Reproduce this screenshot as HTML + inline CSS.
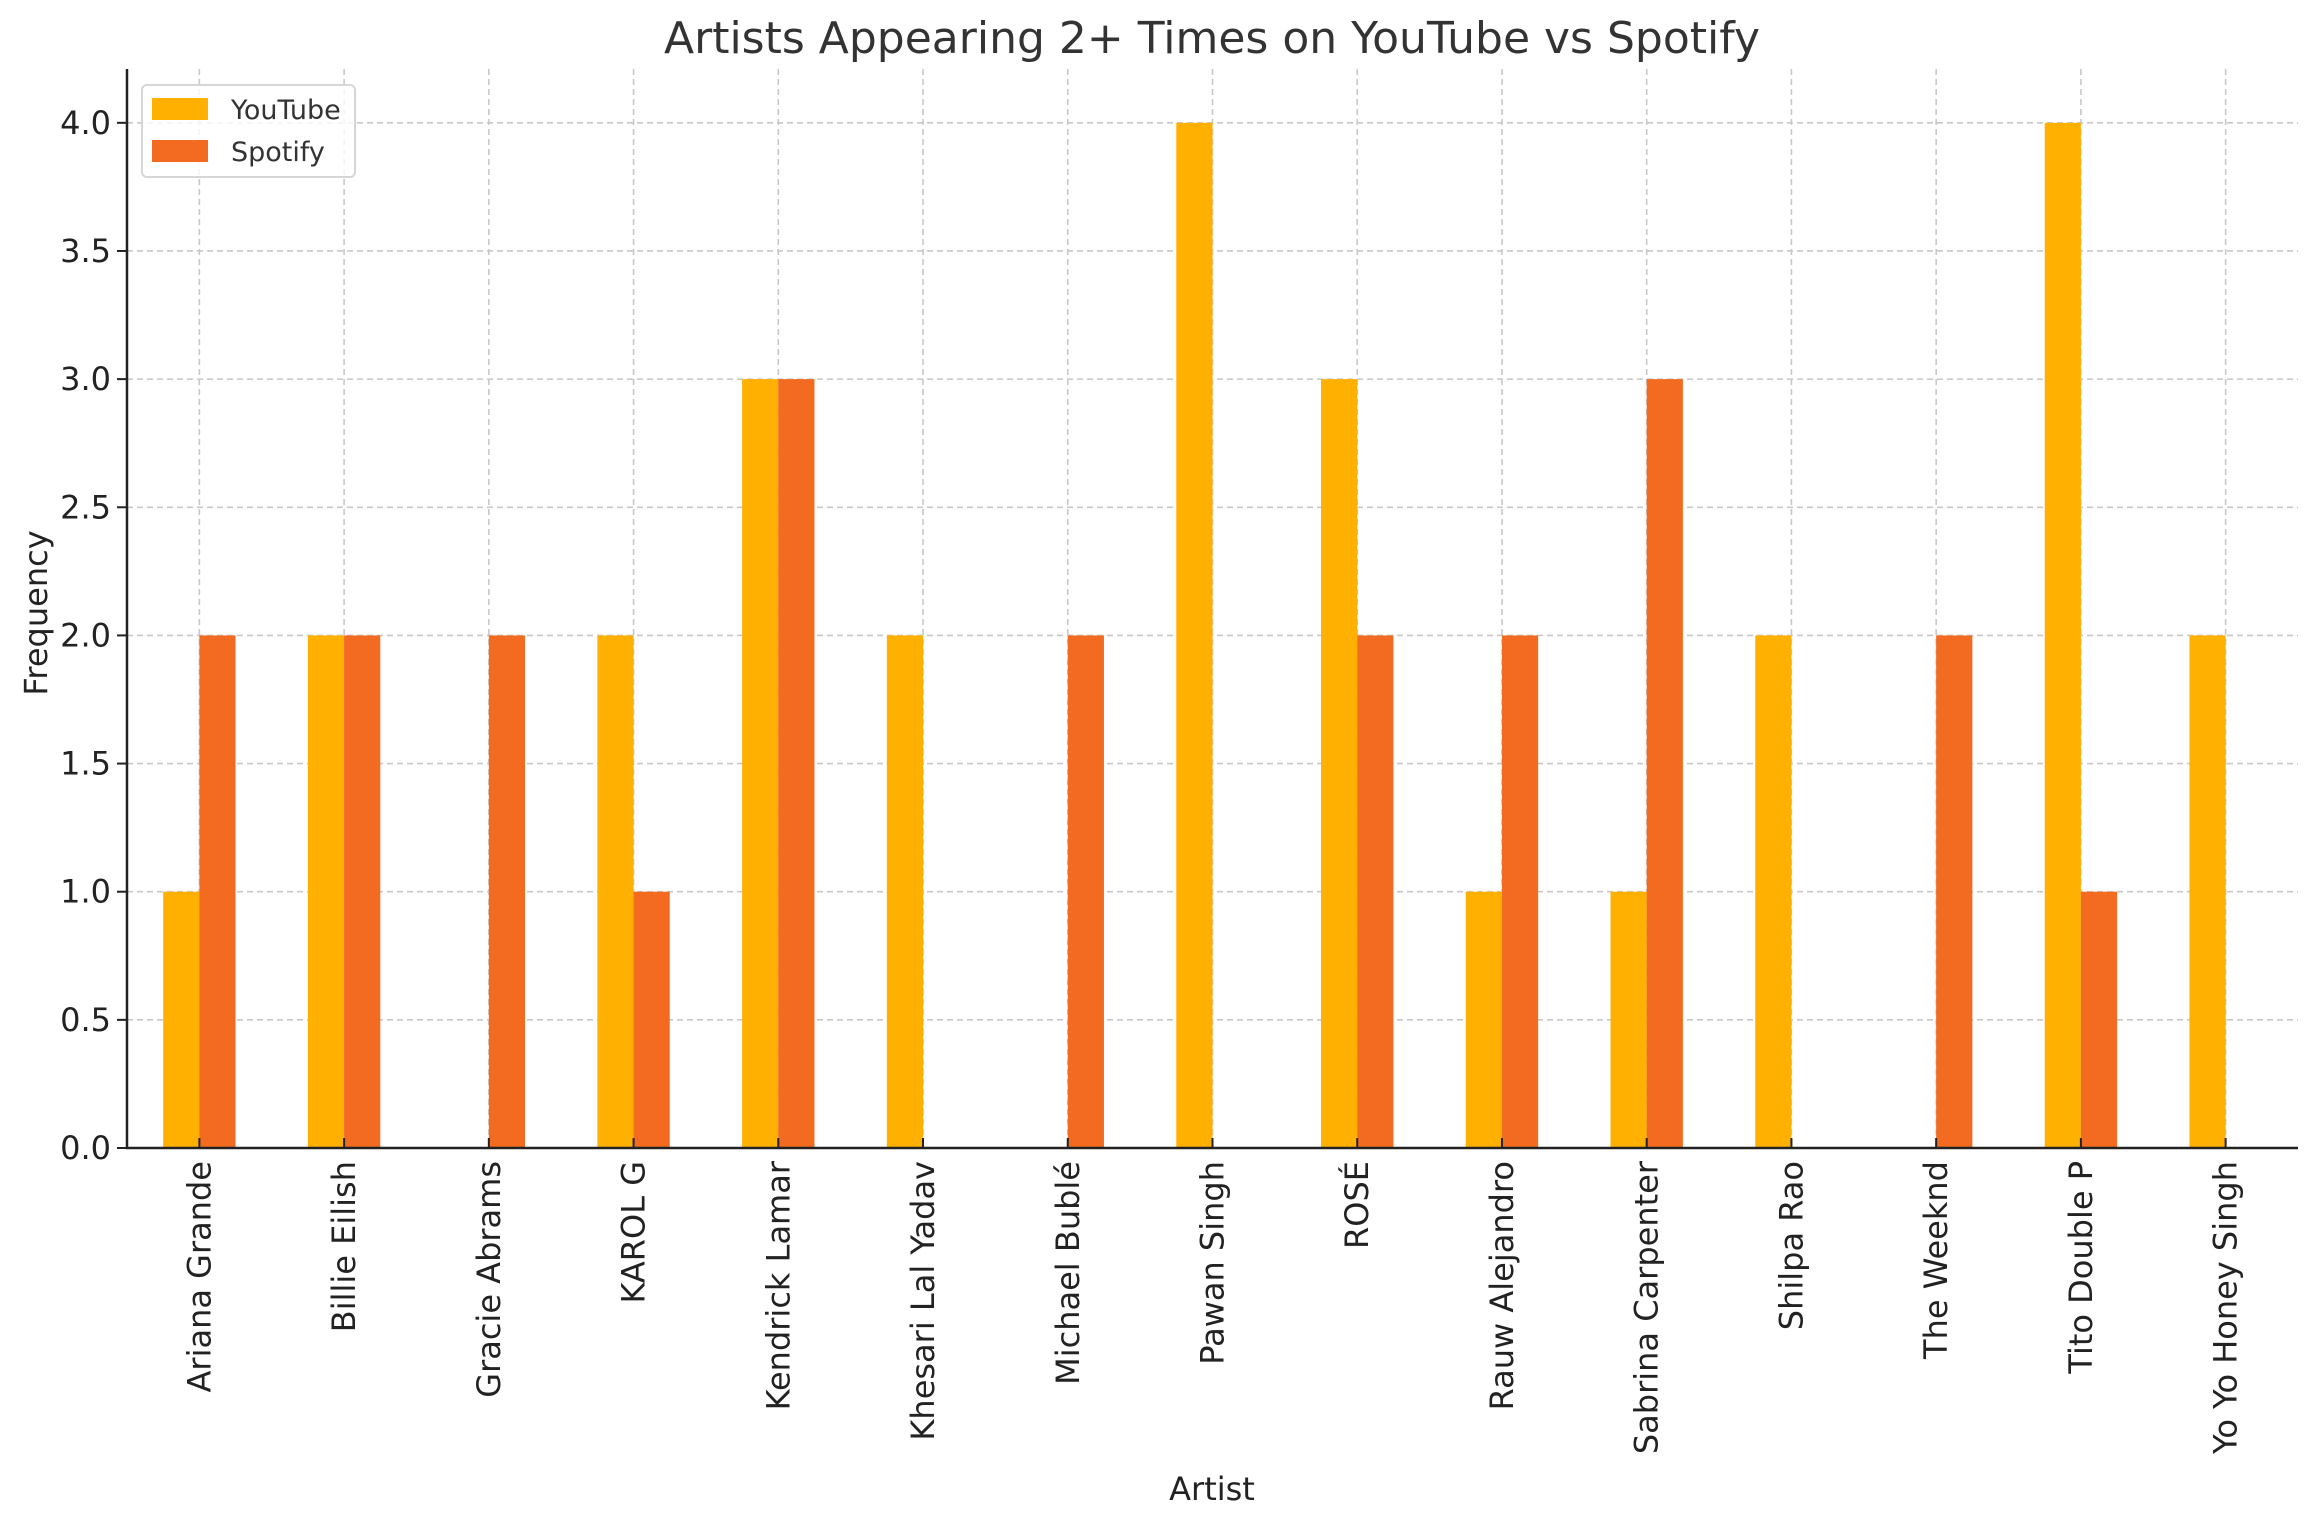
<!DOCTYPE html>
<html><head><meta charset="utf-8"><style>
html,body{margin:0;padding:0;background:#fff;}
svg{display:block;font-family:"DejaVu Sans","Liberation Sans",sans-serif;}
</style></head><body>
<svg id="chart" width="2317" height="1528" viewBox="0 0 2317 1528">
<text x="1212" y="53" text-anchor="middle" font-size="44" fill="#333">Artists Appearing 2+ Times on YouTube vs Spotify</text>
<text x="1212" y="1500" text-anchor="middle" font-size="32" fill="#222">Artist</text>
<text transform="translate(47,613) rotate(-90)" text-anchor="middle" font-size="32" fill="#222">Frequency</text>
<g id="grid"></g><g id="bars"></g><g id="axes"></g>
<g>
<rect x="142" y="85" width="213" height="92" rx="5" fill="#fff" fill-opacity="0.8" stroke="#d6d6d6" stroke-width="2"/>
<rect x="152" y="98" width="56" height="22" fill="#FFB000"/>
<text x="231" y="119" font-size="27" fill="#333">YouTube</text>
<rect x="152" y="140" width="56" height="22" fill="#F26B21"/>
<text x="231" y="161" font-size="27" fill="#333">Spotify</text>
</g>
</svg>
<script>
const artists = ["Ariana Grande","Billie Eilish","Gracie Abrams","KAROL G","Kendrick Lamar","Khesari Lal Yadav","Michael Bublé","Pawan Singh","ROSÉ","Rauw Alejandro","Sabrina Carpenter","Shilpa Rao","The Weeknd","Tito Double P","Yo Yo Honey Singh"];
const youtube = [1,2,0,2,3,2,0,4,3,1,1,2,0,4,2];
const spotify = [2,2,2,1,3,0,2,0,2,2,3,0,2,1,0];
const yTicks = [0,0.5,1,1.5,2,2.5,3,3.5,4];
const yMax = 4.21;

const NS="http://www.w3.org/2000/svg";
const L=127,R=2298,T=69,B=1148;
const step=(R-L)/artists.length;
const x=i=>L+step*(i+0.5);
const y=v=>B-(B-T)*v/yMax;
function mk(tag,attrs,parent){const e=document.createElementNS(NS,tag);for(const k in attrs)e.setAttribute(k,attrs[k]);parent.appendChild(e);return e;}
const grid=document.getElementById('grid'),bars=document.getElementById('bars'),axes=document.getElementById('axes');
yTicks.forEach(t=>{
  const g=mk('line',{x1:L,x2:R,y1:y(t),y2:y(t),stroke:'#c8c8c8','stroke-width':1.6,'stroke-dasharray':'6,4'},grid);
  
  
  const tk=mk('line',{x1:L-10,x2:L,y1:y(t),y2:y(t),stroke:'#222','stroke-width':2},axes);
  
  
  const lb=mk('text',{x:L-16,y:y(t)+11,'text-anchor':'end','font-size':32,fill:'#222'},axes);
  lb.textContent=t.toFixed(1);
  
  
});
const bw=step*0.25;
artists.forEach((a,i)=>{
  const g=mk('line',{x1:x(i),x2:x(i),y1:T,y2:B,stroke:'#c8c8c8','stroke-width':1.6,'stroke-dasharray':'6,4'},grid);
  
  
  const b1=mk('rect',{x:x(i)-bw,y:y(youtube[i]),width:bw,height:B-y(youtube[i]),fill:'#FFB000'},bars);
  
  
  const b2=mk('rect',{x:x(i),y:y(spotify[i]),width:bw,height:B-y(spotify[i]),fill:'#F26B21'},bars);
  
  
  const tk=mk('line',{x1:x(i),x2:x(i),y1:B-10,y2:B,stroke:'#222','stroke-width':2},axes);
  
  
  const lb=mk('text',{transform:`translate(${x(i)+11},${B+13}) rotate(-90)`,'text-anchor':'end','font-size':32,fill:'#222'},axes);
  lb.textContent=a;
  
  
});
const ax=mk('path',{d:`M${L},${T} V${B} H${R}`,fill:'none',stroke:'#222','stroke-width':2.5},axes);


</script>
</body></html>
